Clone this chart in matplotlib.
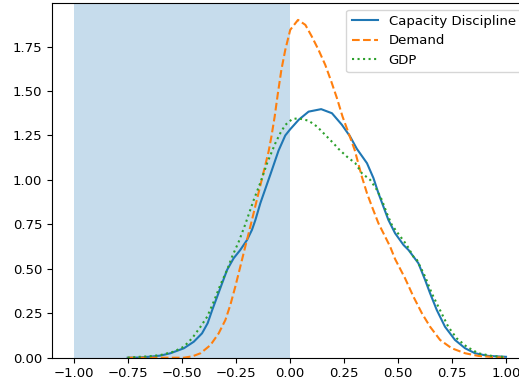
import matplotlib
matplotlib.use("Agg")
import matplotlib.pyplot as plt

cap_x = [-0.75, -0.70, -0.644, -0.598, -0.552, -0.49, -0.444, -0.406, -0.38, -0.359, -0.336, -0.313,
         -0.29, -0.26, -0.229, -0.198, -0.175, -0.159, -0.136, -0.09, -0.052, -0.021, 0.002, 0.041,
         0.087, 0.145, 0.195, 0.241, 0.279, 0.31, 0.357, 0.387, 0.41, 0.433, 0.456, 0.487,
         0.526, 0.549, 0.595, 0.626, 0.649, 0.68, 0.718, 0.764, 0.811, 0.857, 0.918, 1.0]
cap_y = [0.0, 0.001, 0.006, 0.012, 0.025, 0.053, 0.09, 0.137, 0.194, 0.268, 0.343, 0.419,
         0.494, 0.559, 0.606, 0.662, 0.719, 0.775, 0.87, 1.03, 1.165, 1.25, 1.285, 1.338,
         1.384, 1.398, 1.375, 1.31, 1.244, 1.175, 1.094, 1.01, 0.925, 0.85, 0.775, 0.70,
         0.634, 0.606, 0.531, 0.437, 0.362, 0.268, 0.174, 0.10, 0.053, 0.025, 0.01, 0.005]

dem_x = [-0.75, -0.49, -0.45, -0.413, -0.367, -0.329, -0.298, -0.275, -0.252, -0.229, -0.206, -0.182,
         -0.152, -0.128, -0.098, -0.085, -0.07, -0.055, -0.039, -0.021, 0.002, 0.038, 0.072, 0.102,
         0.133, 0.164, 0.192, 0.218, 0.244, 0.272, 0.30, 0.333, 0.357, 0.38, 0.41, 0.441,
         0.464, 0.487, 0.533, 0.572, 0.611, 0.649, 0.695, 0.749, 0.811, 0.872, 0.95, 1.0]
dem_y = [0.0, 0.0, 0.008, 0.025, 0.071, 0.137, 0.212, 0.297, 0.40, 0.512, 0.625, 0.74,
         0.89, 1.01, 1.16, 1.244, 1.356, 1.488, 1.619, 1.731, 1.844, 1.90, 1.872, 1.806,
         1.731, 1.647, 1.553, 1.46, 1.356, 1.263, 1.169, 1.019, 0.925, 0.85, 0.756, 0.681,
         0.625, 0.555, 0.447, 0.343, 0.25, 0.174, 0.10, 0.053, 0.025, 0.01, 0.003, 0.0]

gdp_x = [-0.75, -0.706, -0.65, -0.598, -0.537, -0.49, -0.452, -0.413, -0.382, -0.352, -0.321, -0.29,
         -0.267, -0.236, -0.206, -0.167, -0.136, -0.105, -0.067, -0.044, -0.021, 0.01, 0.038, 0.087,
         0.126, 0.164, 0.202, 0.225, 0.264, 0.303, 0.333, 0.372, 0.403, 0.426, 0.449, 0.472,
         0.50, 0.541, 0.572, 0.588, 0.626, 0.657, 0.687, 0.733, 0.772, 0.818, 0.872, 0.934, 1.0]
gdp_y = [0.0, 0.004, 0.008, 0.015, 0.034, 0.062, 0.109, 0.174, 0.231, 0.315, 0.41, 0.494,
         0.568, 0.653, 0.75, 0.887, 0.985, 1.094, 1.206, 1.263, 1.309, 1.341, 1.347, 1.333,
         1.30, 1.253, 1.206, 1.175, 1.131, 1.094, 1.038, 1.0, 0.944, 0.887, 0.812, 0.747,
         0.70, 0.634, 0.568, 0.55, 0.456, 0.362, 0.287, 0.174, 0.109, 0.062, 0.025, 0.01, 0.003]

plt.rcParams["font.size"] = 9.5

W, H = 519, 385
fig = plt.figure(figsize=(W / 100, H / 100), dpi=100)
left, right, top, bottom = 52, 527.6, 3, 357.7
ax = fig.add_axes([left / W, (H - bottom) / H, (right - left) / W, (bottom - top) / H])

ax.axvspan(-1, 0, color="C0", alpha=0.25, linewidth=0)
ax.plot(cap_x, cap_y, "-", color="C0", label="Capacity Discipline")
ax.plot(dem_x, dem_y, "--", color="C1", label="Demand")
ax.plot(gdp_x, gdp_y, ":", color="C2", label="GDP")

ax.set_xlim(-1.1, 1.1)
ax.set_ylim(0, 1.995)
ax.set_xticks([-1.0, -0.75, -0.5, -0.25, 0.0, 0.25, 0.5, 0.75, 1.0])
ax.set_yticks([0.0, 0.25, 0.5, 0.75, 1.0, 1.25, 1.5, 1.75])
ax.legend(loc="upper right")

fig.savefig("out.png", dpi=100)
